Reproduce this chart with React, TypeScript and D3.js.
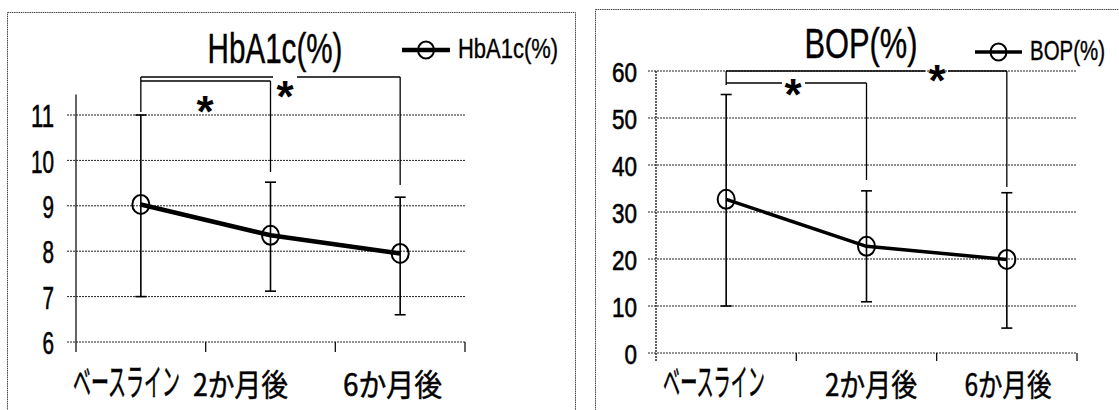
import React, { useLayoutEffect, useRef, useState } from "react";
import * as d3 from "d3";

// Time points shared by both panels
const categories = ["ベースライン", "2か月後", "6か月後"];

// HbA1c (%) mean with lower / upper error limits
const hba1cMean = [9.03, 8.35, 7.95];
const hba1cLow = [7.0, 7.12, 6.6];
const hba1cHigh = [11.0, 9.52, 9.19];
const hba1cTicks = [6, 7, 8, 9, 10, 11];

// BOP (%) mean with lower / upper error limits
const bopMean = [32.7, 22.7, 19.9];
const bopLow = [10, 10.9, 5.3];
const bopHigh = [55, 34.5, 34.1];
const bopTicks = [0, 10, 20, 30, 40, 50, 60];

// Significant comparisons (index pairs into categories)
const sigPairs: [number, number][] = [
  [0, 1],
  [0, 2],
];

const LATIN = "'Liberation Sans', Arial, sans-serif";
const CJK = "'Noto Sans CJK JP', 'Noto Sans', sans-serif";

// Text squeezed horizontally to a given width (condensed face look)
function FitText(props: {
  x: number;
  y: number;
  w: number;
  size: number;
  family: string;
  anchor?: "start" | "middle" | "end";
  weight?: string | number;
  thick?: number;
  children: string;
}) {
  const ref = useRef<SVGTextElement>(null);
  const [sx, setSx] = useState(0.7);
  useLayoutEffect(() => {
    const el = ref.current;
    if (!el) return;
    const fit = () => {
      const n = el.getComputedTextLength();
      if (n > 0) setSx(props.w / n);
    };
    fit();
    if (document.fonts && document.fonts.ready) document.fonts.ready.then(fit);
  }, [props.w, props.size, props.children, props.family]);
  return (
    <text
      ref={ref}
      transform={`translate(${props.x},${props.y}) scale(${sx},1)`}
      textAnchor={props.anchor ?? "start"}
      fontFamily={props.family}
      fontSize={props.size}
      fontWeight={props.weight ?? "normal"}
      fill="#000"
      stroke={props.thick ? "#000" : "none"}
      strokeWidth={props.thick ?? 0}
    >
      {props.children}
    </text>
  );
}

type Bracket = {
  y: number;
  drop: number;
  gap?: [number, number];
  star: [number, number];
};

type PanelProps = {
  title: string;
  mean: number[];
  low: number[];
  high: number[];
  ticks: number[];
  frame: { x: number; y: number; w: number };
  xRange: [number, number];
  yDomain: [number, number];
  yRange: [number, number];
  axisTopValue: number;
  axisDotted: boolean;
  gridStart: number;
  tickBottom: number;
  lineWidth: number;
  titlePos: { x: number; y: number; w: number };
  legend: { x0: number; x1: number; y: number; tx: number; ty: number; tw: number };
  yLabelRight: number;
  digitW: number;
  yLabelSize: number;
  xLabels: { cx: number[]; w: number[]; y: number };
  leftDrop: [number, number];
  brackets: Bracket[];
};

function Panel(p: PanelProps) {
  const x = d3.scaleBand<string>().domain(categories).range(p.xRange);
  const cx = (i: number) => (x(categories[i]) ?? 0) + x.bandwidth() / 2;
  const y = d3.scaleLinear().domain(p.yDomain).range(p.yRange);
  const [xa, xb] = p.xRange;
  const yBottom = y(p.yDomain[0]);

  const line = d3
    .line<number>()
    .x((_, i) => cx(i))
    .y((d) => y(d));

  const tickXs = d3.range(categories.length + 1).map((i) => xa + i * x.step());

  return (
    <g>
      {/* chart frame */}
      <rect
        x={p.frame.x}
        y={p.frame.y}
        width={p.frame.w}
        height={420}
        fill="none"
        stroke="#444"
        strokeWidth={1}
        strokeDasharray="1.5,0.7"
      />

      {/* horizontal gridlines */}
      {p.ticks.map((t) => (
        <line
          key={t}
          x1={p.gridStart}
          x2={xb}
          y1={y(t)}
          y2={y(t)}
          stroke="#222"
          strokeWidth={1}
          strokeDasharray="2,1"
        />
      ))}

      {/* value axis */}
      <line
        x1={xa}
        x2={xa}
        y1={y(p.axisTopValue)}
        y2={p.tickBottom}
        stroke="#111"
        strokeWidth={1.3}
        strokeDasharray={p.axisDotted ? "2,1" : undefined}
      />

      {/* category tick marks */}
      {tickXs.slice(1).map((tx, i) => (
        <line key={i} x1={tx} x2={tx} y1={yBottom} y2={p.tickBottom} stroke="#111" strokeWidth={1.3} />
      ))}

      {/* value labels */}
      {p.ticks.map((t) => {
        const s = String(t);
        return (
          <FitText
            key={t}
            x={p.yLabelRight}
            y={y(t) + p.yLabelSize * 0.36 + 1}
            w={s.length * p.digitW}
            size={p.yLabelSize}
            family={LATIN}
            anchor="end"
            thick={0.6}
          >
            {s}
          </FitText>
        );
      })}

      {/* category labels */}
      {categories.map((c, i) => (
        <FitText
          key={c}
          x={p.xLabels.cx[i]}
          y={p.xLabels.y}
          w={p.xLabels.w[i]}
          size={i === 0 ? 37 : 31}
          family={CJK}
          anchor="middle"
          thick={0.5}
        >
          {c}
        </FitText>
      ))}

      {/* error bars */}
      {p.mean.map((_, i) => (
        <g key={i} stroke="#000" strokeWidth={1.6}>
          <line x1={cx(i)} x2={cx(i)} y1={y(p.low[i])} y2={y(p.high[i])} />
          <line x1={cx(i) - 5.5} x2={cx(i) + 5.5} y1={y(p.low[i])} y2={y(p.low[i])} />
          <line x1={cx(i) - 5.5} x2={cx(i) + 5.5} y1={y(p.high[i])} y2={y(p.high[i])} />
        </g>
      ))}

      {/* mean line with open circle markers */}
      <path d={line(p.mean) ?? ""} fill="none" stroke="#000" strokeWidth={p.lineWidth} strokeLinejoin="round" />
      {p.mean.map((m, i) => (
        <ellipse key={i} cx={cx(i)} cy={y(m)} rx={8.5} ry={9.5} fill="none" stroke="#000" strokeWidth={2} />
      ))}

      {/* significance brackets */}
      <line
        x1={cx(sigPairs[0][0])}
        x2={cx(sigPairs[0][0])}
        y1={p.leftDrop[0]}
        y2={p.leftDrop[1]}
        stroke="#000"
        strokeWidth={1.3}
      />
      {sigPairs.map(([a, b], k) => {
        const br = p.brackets[k];
        const xa1 = cx(a);
        const xb1 = cx(b);
        const segs: [number, number][] = br.gap
          ? [
              [xa1, br.gap[0]],
              [br.gap[1], xb1],
            ]
          : [[xa1, xb1]];
        return (
          <g key={k} stroke="#000" strokeWidth={1.3}>
            {segs.map((s, j) => (
              <line key={j} x1={s[0]} x2={s[1]} y1={br.y} y2={br.y} />
            ))}
            <line x1={xb1} x2={xb1} y1={br.y} y2={br.drop} />
            <text
              x={br.star[0]}
              y={br.star[1] + 25}
              textAnchor="middle"
              fontFamily={LATIN}
              fontWeight="bold"
              fontSize={44}
              stroke="none"
              fill="#000"
            >
              *
            </text>
          </g>
        );
      })}

      {/* title */}
      <FitText x={p.titlePos.x} y={p.titlePos.y} w={p.titlePos.w} size={42} family={LATIN} anchor="middle" thick={0.4}>
        {p.title}
      </FitText>

      {/* legend */}
      <line x1={p.legend.x0} x2={p.legend.x1} y1={p.legend.y} y2={p.legend.y} stroke="#000" strokeWidth={p.lineWidth} />
      <ellipse
        cx={(p.legend.x0 + p.legend.x1) / 2}
        cy={p.legend.y}
        rx={8}
        ry={8.5}
        fill="none"
        stroke="#000"
        strokeWidth={2}
      />
      <FitText x={p.legend.tx} y={p.legend.ty} w={p.legend.tw} size={28} family={LATIN} thick={0.4}>
        {p.title}
      </FitText>
    </g>
  );
}

export default function App() {
  return (
    <svg
      width={1119}
      height={410}
      viewBox="0 0 1119 410"
      style={{ position: "absolute", left: 0, top: 0, background: "#fff" }}
    >
      <rect x={0} y={0} width={1119} height={410} fill="#fff" />
      <Panel
        title="HbA1c(%)"
        mean={hba1cMean}
        low={hba1cLow}
        high={hba1cHigh}
        ticks={hba1cTicks}
        frame={{ x: 7.5, y: 12.5, w: 568 }}
        xRange={[76, 465]}
        yDomain={[6, 11]}
        yRange={[342, 115]}
        axisTopValue={11.45}
        axisDotted={false}
        gridStart={67}
        tickBottom={352}
        lineWidth={4.5}
        titlePos={{ x: 275, y: 63, w: 135 }}
        legend={{ x0: 402, x1: 450, y: 50, tx: 458, ty: 58, tw: 100 }}
        yLabelRight={54}
        digitW={11.5}
        yLabelSize={31}
        xLabels={{ cx: [126.5, 240.5, 392.5], w: [107, 95, 99], y: 396 }}
        leftDrop={[77, 112]}
        brackets={[
          { y: 81, drop: 172, star: [205, 102] },
          { y: 77, drop: 185, gap: [273, 297], star: [285, 87] },
        ]}
      />
      <Panel
        title="BOP(%)"
        mean={bopMean}
        low={bopLow}
        high={bopHigh}
        ticks={bopTicks}
        frame={{ x: 595.5, y: 9.5, w: 600 }}
        xRange={[656, 1077]}
        yDomain={[0, 60]}
        yRange={[353, 71]}
        axisTopValue={60}
        axisDotted={true}
        gridStart={648}
        tickBottom={361}
        lineWidth={3.5}
        titlePos={{ x: 861, y: 58, w: 113 }}
        legend={{ x0: 975, x1: 1022, y: 52, tx: 1030, ty: 60, tw: 75 }}
        yLabelRight={637}
        digitW={12.5}
        yLabelSize={28}
        xLabels={{ cx: [714, 871, 1008], w: [102, 92, 87], y: 396 }}
        leftDrop={[71, 85]}
        brackets={[
          { y: 83, drop: 180, gap: [782, 805], star: [793, 85] },
          { y: 71, drop: 187, gap: [925, 948], star: [937, 71] },
        ]}
      />
    </svg>
  );
}
